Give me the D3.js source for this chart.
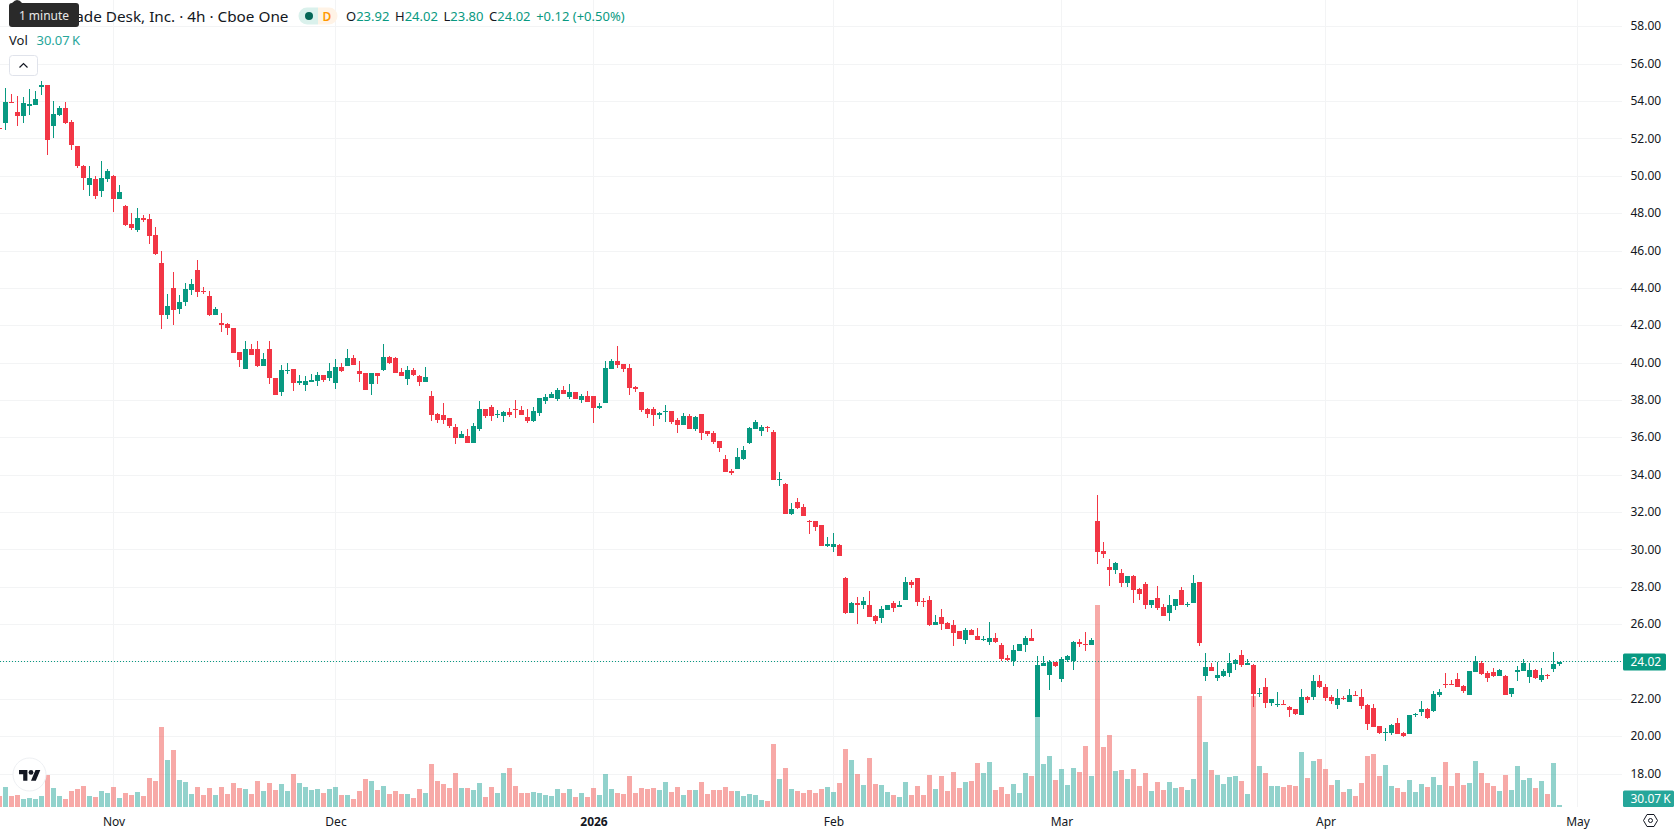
<!DOCTYPE html>
<html>
<head>
<meta charset="utf-8">
<title>The Trade Desk, Inc. 4h</title>
<script src="https://cdn.jsdelivr.net/npm/d3@7/dist/d3.min.js"></script>
<style>
  html, body { margin: 0; padding: 0; background: #fff; overflow: hidden; }
  svg { display: block; font-family: "Noto Sans", sans-serif; }
</style>
</head>
<body>
<svg id="chart" width="1678" height="835"></svg>
<script>
// Four-hour bars; the first bar sits at index -1, partly off the left edge.
const firstIndex = -1;

const opens = [52.60,
52.87,54.00,53.46,53.24,53.78,53.83,54.81,54.90,52.71,53.30,
53.67,52.92,51.64,50.57,49.55,49.87,49.23,49.87,50.03,48.80,
48.43,47.46,47.14,47.78,47.73,46.87,45.37,42.59,44.04,42.91,
43.29,43.93,45.00,43.86,43.61,42.59,42.16,42.11,41.89,40.61,
39.70,40.77,40.77,39.86,40.77,39.22,38.47,39.61,39.70,38.95,
38.84,39.00,39.06,39.38,39.22,38.95,39.80,39.86,40.29,39.59,
39.49,38.90,39.49,39.65,40.34,40.29,39.54,39.17,39.65,39.32,
39.00,38.25,37.29,37.24,37.08,36.60,36.01,36.11,35.74,36.49,
37.56,37.67,37.24,37.18,37.40,37.56,37.50,37.13,36.91,37.34,
37.99,38.15,38.09,38.57,38.20,38.47,38.04,38.25,38.25,37.61,
37.88,39.70,40.13,39.97,39.75,38.74,38.47,37.56,37.56,37.24,
37.42,37.45,36.97,36.70,37.18,36.49,37.29,36.38,36.27,35.84,
34.88,34.24,34.35,34.88,35.74,36.49,36.38,36.60,36.33,33.76,
33.54,31.94,32.58,32.31,31.56,31.56,31.35,30.22,30.17,30.28,
28.51,26.64,27.17,27.07,27.07,26.48,26.37,26.80,27.17,26.96,
27.33,28.30,28.51,27.28,27.33,25.99,26.42,26.10,25.99,25.67,
25.19,25.73,25.41,25.21,25.09,25.30,24.92,24.23,24.07,24.60,
24.92,25.30,21.07,23.80,23.32,24.03,23.10,24.12,24.07,25.09,
24.98,24.92,31.56,29.96,29.10,28.94,28.78,28.24,28.62,27.92,
28.19,27.07,27.44,26.96,26.64,27.01,27.87,27.08,27.17,28.30,
23.25,23.75,23.16,23.25,23.42,23.91,24.39,23.85,23.85,22.32,
22.68,21.82,21.73,21.77,21.60,21.50,21.18,22.14,22.14,23.00,
22.68,22.14,21.71,22.09,21.87,22.23,22.14,21.71,21.55,20.59,
20.23,20.21,20.75,20.21,20.16,21.18,21.34,21.50,21.39,22.25,
22.84,22.84,23.10,22.73,22.25,23.48,23.96,23.43,23.48,23.26,
23.26,22.30,23.48,23.53,23.21,23.59,23.05,23.34,23.64,23.92];

const highs = [52.60,
54.74,54.42,54.31,54.26,54.69,54.58,55.12,54.90,54.05,53.78,
54.00,53.03,51.64,50.62,50.57,50.03,50.83,50.40,50.08,49.55,
48.48,48.05,48.32,47.94,48.00,47.30,46.02,43.71,44.89,43.66,
44.30,44.52,45.53,44.09,43.88,43.02,42.70,42.16,41.89,40.61,
41.20,41.04,41.20,40.56,41.20,39.22,39.91,40.02,39.70,39.38,
39.32,39.43,39.54,39.38,40.02,40.24,40.02,40.77,40.45,40.13,
39.49,39.49,39.49,41.04,40.39,40.34,39.75,39.86,39.75,39.38,
39.80,38.52,37.34,37.88,37.08,36.75,36.38,36.49,36.81,37.99,
37.56,37.77,37.50,37.45,37.61,38.04,37.72,37.56,37.67,38.15,
38.36,38.47,38.68,38.79,38.90,38.47,38.36,38.52,38.25,37.88,
40.13,40.24,40.93,39.97,39.97,38.79,38.47,37.61,37.66,37.40,
37.77,37.45,37.08,37.34,37.29,37.18,37.29,36.38,36.38,35.84,
35.10,34.35,35.47,35.58,36.60,36.97,36.70,36.65,36.43,34.19,
33.60,32.53,32.79,32.47,31.62,31.56,31.35,30.71,30.92,30.33,
28.56,27.23,27.49,27.49,27.81,26.53,27.01,27.07,27.28,27.28,
28.56,28.40,28.51,27.44,27.55,26.53,26.85,26.16,26.26,25.67,
25.83,25.78,25.83,25.41,26.15,25.57,25.03,24.39,24.92,24.98,
25.41,25.78,24.33,24.33,24.12,24.03,24.28,24.39,25.14,25.25,
25.62,25.30,32.95,30.44,29.53,29.37,28.99,28.62,28.67,27.98,
28.30,27.33,28.08,27.12,27.60,27.39,28.03,27.23,28.67,28.30,
24.50,23.96,24.01,23.64,24.50,24.17,24.66,24.17,23.91,22.62,
23.16,22.03,22.41,21.98,21.66,21.50,22.57,22.19,23.32,23.32,
22.84,22.25,22.57,22.19,22.57,22.46,22.57,21.77,21.77,20.59,
20.48,20.69,21.02,20.27,21.18,21.28,21.93,21.55,22.46,22.57,
23.43,23.05,23.43,22.78,23.53,24.33,24.07,23.53,23.69,23.64,
23.32,22.62,23.80,24.17,23.96,23.64,23.69,23.37,24.55,24.02];

const lows = [52.57,
52.49,53.96,52.71,52.87,53.30,53.83,54.37,51.16,52.07,53.24,
52.82,51.42,50.46,49.28,48.96,48.80,48.91,49.71,48.10,48.80,
47.35,47.14,47.03,47.57,46.39,45.80,41.84,42.38,42.06,42.64,
43.07,43.66,43.55,43.71,42.54,42.59,41.68,41.52,40.56,39.80,
39.70,40.45,39.80,39.86,38.90,38.31,38.25,39.43,38.52,38.84,
38.52,39.00,38.79,39.00,39.06,38.63,39.54,39.86,39.91,39.00,
38.58,38.31,38.90,39.59,39.97,39.49,39.32,38.84,39.32,38.79,
39.00,36.91,36.81,36.75,36.54,35.69,36.01,35.74,35.74,36.38,
37.08,36.91,37.08,36.86,37.13,37.08,37.24,36.81,36.86,37.18,
37.83,38.15,37.99,38.36,38.09,38.09,37.88,37.93,36.81,37.56,
37.88,39.70,39.75,39.54,38.31,38.47,37.40,37.08,36.65,37.02,
36.86,36.76,36.27,36.70,36.49,36.38,35.90,36.11,35.69,35.26,
34.19,34.03,34.35,34.83,35.69,36.49,36.11,36.33,33.76,33.44,
31.94,31.88,32.20,31.83,30.87,31.03,30.22,30.17,29.90,29.69,
26.59,26.64,26.05,26.85,26.42,26.05,26.10,26.80,26.69,26.96,
27.33,27.98,27.01,26.96,25.94,25.99,25.73,25.78,24.87,25.25,
24.98,25.46,25.19,25.14,24.92,25.03,24.07,24.07,23.80,24.60,
24.55,25.14,21.07,23.80,22.52,23.75,22.94,24.01,23.59,24.82,
24.60,24.92,29.26,29.58,28.08,28.72,28.03,28.03,27.17,27.33,
26.85,26.90,26.80,26.48,26.21,26.80,27.07,26.96,27.17,24.87,
22.99,23.53,22.99,23.21,23.21,23.59,23.75,23.85,21.61,22.14,
21.55,21.66,21.60,21.71,21.07,21.18,21.18,21.82,21.98,22.62,
21.93,21.77,21.50,21.98,21.87,22.19,21.50,20.37,20.53,20.16,
19.79,20.11,20.16,20.00,20.16,21.07,21.12,20.96,21.34,22.14,
22.62,22.78,22.68,22.35,22.25,23.48,23.32,22.94,23.21,23.26,
22.25,22.14,23.00,23.53,22.89,23.10,22.94,23.10,23.48,23.80];

const closes = [52.57,
54.00,53.96,53.26,53.94,53.89,54.15,54.90,51.96,53.35,53.67,
52.87,51.69,50.57,49.92,49.92,48.96,49.92,50.30,48.80,49.18,
47.41,47.25,47.78,47.68,46.82,45.86,42.59,43.07,42.86,43.29,
43.98,44.25,43.82,43.80,42.59,42.91,42.06,41.89,40.56,40.18,
40.77,40.45,39.86,40.24,39.22,38.31,39.65,39.65,38.95,39.06,
39.06,39.11,39.38,39.11,39.59,39.80,39.59,40.29,39.91,39.43,
38.58,39.49,39.32,40.34,40.02,39.49,39.32,39.65,39.38,39.00,
39.27,37.24,36.97,36.97,36.65,36.01,36.22,35.74,36.65,37.56,
37.18,37.18,37.29,37.40,37.24,37.52,37.24,36.91,37.45,38.15,
38.20,38.36,38.57,38.36,38.47,38.09,38.25,37.93,37.61,37.72,
39.75,40.13,39.91,39.70,38.68,38.63,37.50,37.29,37.24,37.34,
37.45,36.86,36.70,37.18,36.49,37.13,36.27,36.22,35.79,35.47,
34.19,34.13,34.99,35.36,36.54,36.86,36.60,36.56,33.76,33.79,
31.94,32.20,32.26,31.83,31.53,31.24,30.22,30.33,30.33,29.69,
26.64,27.17,27.07,27.28,26.42,26.21,26.85,27.07,26.91,27.07,
28.30,28.14,27.23,27.24,25.99,26.15,26.05,25.78,25.57,25.25,
25.73,25.46,25.19,25.25,25.30,25.09,24.17,24.12,24.66,24.98,
25.30,25.14,23.85,23.96,24.03,23.80,24.17,24.33,25.09,24.98,
24.94,25.19,29.90,29.80,28.94,29.31,28.24,28.62,27.87,27.65,
27.07,27.33,26.90,26.48,27.07,27.39,27.07,27.12,28.24,25.03,
23.75,23.53,23.32,23.53,23.96,24.12,23.85,23.96,22.30,22.36,
21.82,22.03,21.77,21.71,21.44,21.23,22.14,21.98,23.00,22.68,
22.09,21.93,22.09,22.05,22.25,22.19,21.66,20.69,20.53,20.21,
20.27,20.64,20.16,20.05,21.18,21.21,21.50,21.02,22.30,22.41,
22.80,22.80,22.68,22.46,23.53,24.07,23.37,23.16,23.26,23.59,
22.25,22.62,23.59,23.96,23.59,23.16,23.32,23.30,23.91,24.02];

// Volume per bar, in thousands of shares.
const volumes = [165,
300,165,180,120,135,120,165,480,285,165,
120,240,270,315,165,150,240,210,300,135,
210,180,225,165,435,390,1200,705,855,405,
375,195,300,180,285,180,300,195,360,285,
270,195,390,240,360,255,345,240,495,360,
300,255,270,210,270,300,180,180,120,240,
420,390,255,315,195,240,195,195,135,270,
210,645,390,345,285,510,285,285,255,360,
150,300,210,510,585,315,210,210,225,210,
180,165,270,210,270,150,210,150,285,180,
495,270,210,195,465,210,285,270,285,255,
375,225,300,180,255,255,375,195,255,255,
300,240,240,165,195,180,105,90,945,420,
585,270,240,210,255,210,270,300,225,360,
870,705,495,330,735,345,330,225,180,150,
375,180,315,180,480,270,465,240,525,285,
375,390,660,510,675,255,300,195,345,210,
510,465,1350,645,765,405,570,330,585,525,
915,465,3030,900,1080,540,555,420,570,315,
510,240,375,255,375,285,300,255,420,1665,
975,555,480,345,450,465,390,195,1665,615,
510,315,315,300,330,315,825,435,690,720,
570,330,405,225,270,165,360,765,795,465,
630,315,285,225,405,225,345,300,450,330,
675,315,510,330,360,690,510,360,315,240,
480,255,615,405,435,285,390,195,660,30.07];

// Price axis ticks and month labels on the time axis.
const priceTicks = [58,56,54,52,50,48,46,44,42,40,38,36,34,32,30,28,26,24,22,20,18];
const timeTickIndexes = [18,55,98,138,176,220,262];
const timeTickLabels = ["Nov","Dec","2026","Feb","Mar","Apr","May"];

const lastClose = 24.02;
const lastVolume = "30.07\u202FK";
const legendValues = [["O","23.92"],["H","24.02"],["L","23.80"],["C","24.02"]];
const legendChange = "+0.12 (+0.50%)";

const upColor = "#089981", downColor = "#F23645";
const upVolume = "rgba(38,166,154,0.5)", downVolume = "rgba(239,83,80,0.5)";
const gridColor = "#F3F4F5", textColor = "#131722";

const paneRight = 1622, paneBottom = 807;

const bars = opens.map((o, i) => ({
  index: firstIndex + i, o, h: highs[i], l: lows[i], c: closes[i], v: volumes[i], up: closes[i] >= o
}));

const x = d3.scaleLinear().domain([-1, 259]).range([-0.5, 1559.5]);
const y = d3.scaleLinear().domain([56, 18]).range([64.5, 774.34]);
const yVol = d3.scaleLinear().domain([0, 3030]).range([paneBottom, 605]);
const snap = v => Math.round(v);
const gridRow = v => Math.floor(y(v) - 0.3) + 0.5;

const svg = d3.select("#chart");

// Grid
const grid = svg.append("g").attr("shape-rendering", "crispEdges");
grid.selectAll("line.h").data(priceTicks).join("line").attr("class", "h")
  .attr("x1", 0).attr("x2", paneRight)
  .attr("y1", gridRow).attr("y2", gridRow)
  .attr("stroke", gridColor);
grid.selectAll("line.v").data(timeTickIndexes).join("line").attr("class", "v")
  .attr("x1", d => x(d)).attr("x2", d => x(d))
  .attr("y1", 0).attr("y2", paneBottom)
  .attr("stroke", gridColor);

// Volume bars sit behind the candles
svg.append("g").attr("shape-rendering", "crispEdges")
  .selectAll("rect").data(bars).join("rect")
  .attr("x", d => x(d.index) - 2.5)
  .attr("width", 5)
  .attr("y", d => snap(yVol(d.v)))
  .attr("height", d => paneBottom - snap(yVol(d.v)))
  .attr("fill", d => d.up ? upVolume : downVolume);

// Last-price line
svg.append("line")
  .attr("x1", 0).attr("x2", paneRight)
  .attr("y1", gridRow(lastClose)).attr("y2", gridRow(lastClose))
  .attr("stroke", upColor).attr("stroke-width", 1)
  .attr("stroke-dasharray", "1 2");

// Candles
const candles = svg.append("g").attr("shape-rendering", "crispEdges")
  .selectAll("g").data(bars).join("g");
candles.append("rect")
  .attr("x", d => x(d.index) - 0.5).attr("width", 1)
  .attr("y", d => snap(y(d.h)))
  .attr("height", d => Math.max(1, snap(y(d.l)) - snap(y(d.h))))
  .attr("fill", d => d.up ? upColor : downColor);
candles.append("rect")
  .attr("x", d => x(d.index) - 2.5).attr("width", 5)
  .attr("y", d => snap(y(Math.max(d.o, d.c))))
  .attr("height", d => Math.max(1, snap(y(Math.min(d.o, d.c))) - snap(y(Math.max(d.o, d.c)))))
  .attr("fill", d => d.up ? upColor : downColor);

// Axes
const priceAxis = d3.axisRight(y).tickValues(priceTicks).tickSize(0).tickPadding(0)
  .tickFormat(d3.format(".2f"));
const priceG = svg.append("g").attr("transform", "translate(1630.5,-1)").call(priceAxis);
priceG.select(".domain").remove();
priceG.selectAll("text").attr("font-size", 12).attr("fill", textColor)
  .attr("font-family", "'Noto Sans', sans-serif");

const timeAxis = d3.axisBottom(x).tickValues(timeTickIndexes).tickSize(0).tickPadding(0)
  .tickFormat((d, i) => timeTickLabels[i]);
const timeG = svg.append("g").attr("transform", "translate(0,817)").call(timeAxis);
timeG.select(".domain").remove();
timeG.selectAll("text").attr("font-size", 12).attr("fill", textColor)
  .attr("font-family", "'Noto Sans', sans-serif")
  .attr("font-weight", (d, i) => timeTickLabels[i] === "2026" ? 700 : 400);

// Price and volume badges on the axis
function badge(yTop, h, w, fill, label) {
  const g = svg.append("g");
  g.append("rect").attr("x", 1623).attr("y", yTop).attr("width", w).attr("height", h).attr("rx", 1.5).attr("fill", fill);
  g.append("text").attr("x", 1630.5).attr("y", yTop + h / 2 + 4.2)
    .attr("font-size", 12).attr("fill", "#fff").text(label);
}
badge(653.5, 17, 43, upColor, d3.format(".2f")(lastClose));
badge(790.5, 16.5, 51, "#26a69a", lastVolume);

// Settings icon under the price axis
const settings = svg.append("g").attr("transform", "translate(1650.5,820.5)")
  .attr("fill", "none").attr("stroke", textColor).attr("stroke-width", 1);
settings.append("path").attr("d", "M-3.5,-6 L3.5,-6 L7,0 L3.5,6 L-3.5,6 L-7,0 Z").attr("stroke-linejoin", "round");
settings.append("circle").attr("r", 2);

// Legend: title, status pills, OHLC values
const legend = svg.append("g");
legend.append("text").attr("x", 288.5).attr("y", 21.5).attr("text-anchor", "end")
  .attr("font-size", 15.3).attr("fill", textColor)
  .text("The Trade Desk, Inc. · 4h · Cboe One");

legend.append("path").attr("d", "M318,7.5 L307,7.5 A8.5,8.5 0 0 0 307,24.5 L318,24.5 Z").attr("fill", "#DAF1EC");
legend.append("circle").attr("cx", 309).attr("cy", 16).attr("r", 4).attr("fill", "#056656");
legend.append("path").attr("d", "M318,7.5 L329,7.5 A8.5,8.5 0 0 1 329,24.5 L318,24.5 Z").attr("fill", "#FFF3E6");
legend.append("text").attr("x", 327).attr("y", 20.5).attr("text-anchor", "middle").attr("font-size", 12)
  .attr("font-weight", 600).attr("fill", "#FF9800").text("D");

const ohlc = legend.append("text").attr("x", 346).attr("y", 20.5).attr("font-size", 13);
legendValues.forEach(([k, v], i) => {
  ohlc.append("tspan").attr("dx", i ? 5.6 : 0).attr("fill", textColor).text(k);
  ohlc.append("tspan").attr("fill", upColor).text(v);
});
ohlc.append("tspan").attr("dx", 5.6).attr("fill", upColor).text(legendChange);

legend.append("text").attr("x", 9).attr("y", 45).attr("font-size", 13).attr("fill", textColor).text("Vol");
legend.append("text").attr("x", 36.5).attr("y", 45).attr("font-size", 13).attr("fill", "#26a69a").text(lastVolume);

// Collapse button
svg.append("rect").attr("x", 9.5).attr("y", 55.5).attr("width", 28).attr("height", 20).attr("rx", 3)
  .attr("fill", "#fff").attr("stroke", "#E0E3EB");
svg.append("path").attr("d", "M19.5,67.5 L23.5,63.5 L27.5,67.5").attr("fill", "none")
  .attr("stroke", textColor).attr("stroke-width", 1.2);

// Tooltip over the start of the title
svg.append("path").attr("d", "M12,3 Q15,0 17,0 Q20,0 22,3 Z").attr("fill", "#2A2A2A");
svg.append("rect").attr("x", 9).attr("y", 3).attr("width", 70).attr("height", 24).attr("rx", 3).attr("fill", "#2A2A2A");
svg.append("text").attr("x", 44).attr("y", 20).attr("text-anchor", "middle").attr("font-size", 12)
  .attr("fill", "#E8E8E8").text("1 minute");

// Watermark badge, lower left
const mark = svg.append("g");
mark.append("circle").attr("cx", 29.5).attr("cy", 774.5).attr("r", 16.5)
  .attr("fill", "#fff").attr("stroke", "#EEF0F3").attr("stroke-width", 1);
const logo = mark.append("g").attr("transform", "translate(19,767.6) scale(0.6)").attr("fill", "#131722");
logo.append("path").attr("d", "M14 22H7V11H0V4h14v18zM28 22h-8l7.5-18h8L28 22z");
logo.append("circle").attr("cx", 20).attr("cy", 8).attr("r", 4);
</script>
</body>
</html>
